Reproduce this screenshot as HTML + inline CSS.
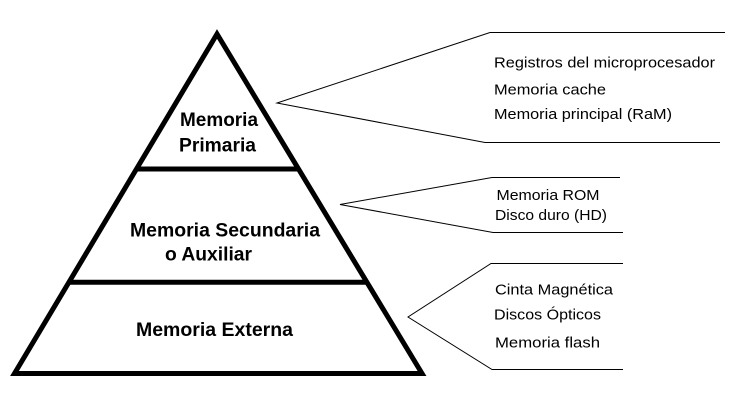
<!DOCTYPE html>
<html>
<head>
<meta charset="utf-8">
<style>
  html,body{margin:0;padding:0;background:#fff;}
  body{width:756px;height:418px;overflow:hidden;}
  svg{display:block;}
  .b{font-family:"Liberation Sans",Arial,sans-serif;font-weight:bold;font-size:19px;fill:#000;}
  .s{font-family:"Liberation Sans",Arial,sans-serif;font-size:14.5px;fill:#000;}
</style>
</head>
<body>
<svg width="756" height="418" viewBox="0 0 756 418" xmlns="http://www.w3.org/2000/svg">
  <rect x="0" y="0" width="756" height="418" fill="#fff"/>
  <!-- Pyramid -->
  <polygon points="217,34 14.5,373.5 422,373.5" fill="none" stroke="#000" stroke-width="5" stroke-linejoin="miter"/>
  <line x1="136" y1="169" x2="299" y2="169" stroke="#000" stroke-width="5"/>
  <line x1="68" y1="282.3" x2="367" y2="282.3" stroke="#000" stroke-width="5"/>

  <!-- Connectors -->
  <polyline points="725,32.5 490,32.5 277,103 485,142.5 720,142.5" fill="none" stroke="#000" stroke-width="1"/>
  <polyline points="620,177.5 492,177.5 340,204.5 493,232.5 623,232.5" fill="none" stroke="#000" stroke-width="1"/>
  <polyline points="623,263.5 491,263.5 408,317 492,369.5 623,369.5" fill="none" stroke="#000" stroke-width="1"/>

  <!-- Pyramid labels -->
  <text class="b" x="180" y="126" textLength="78" lengthAdjust="spacingAndGlyphs">Memoria</text>
  <text class="b" x="179" y="151.5" textLength="77" lengthAdjust="spacingAndGlyphs">Primaria</text>
  <text class="b" x="130" y="236.5" textLength="190" lengthAdjust="spacingAndGlyphs">Memoria Secundaria</text>
  <text class="b" x="165" y="260.5" textLength="87" lengthAdjust="spacingAndGlyphs">o Auxiliar</text>
  <text class="b" x="136" y="336" textLength="157" lengthAdjust="spacingAndGlyphs">Memoria Externa</text>

  <!-- Side labels -->
  <text class="s" x="494" y="67.5" textLength="221" lengthAdjust="spacingAndGlyphs">Registros del microprocesador</text>
  <text class="s" x="494" y="94.3" textLength="112" lengthAdjust="spacingAndGlyphs">Memoria cache</text>
  <text class="s" x="494" y="119" textLength="178" lengthAdjust="spacingAndGlyphs">Memoria principal (RaM)</text>

  <text class="s" x="496.5" y="200" textLength="103" lengthAdjust="spacingAndGlyphs">Memoria ROM</text>
  <text class="s" x="495" y="220" textLength="112" lengthAdjust="spacingAndGlyphs">Disco duro (HD)</text>

  <text class="s" x="495" y="294.3" textLength="118" lengthAdjust="spacingAndGlyphs">Cinta Magnética</text>
  <text class="s" x="494" y="319.3" textLength="107" lengthAdjust="spacingAndGlyphs">Discos Ópticos</text>
  <text class="s" x="495" y="347.3" textLength="105" lengthAdjust="spacingAndGlyphs">Memoria flash</text>
</svg>
</body>
</html>
